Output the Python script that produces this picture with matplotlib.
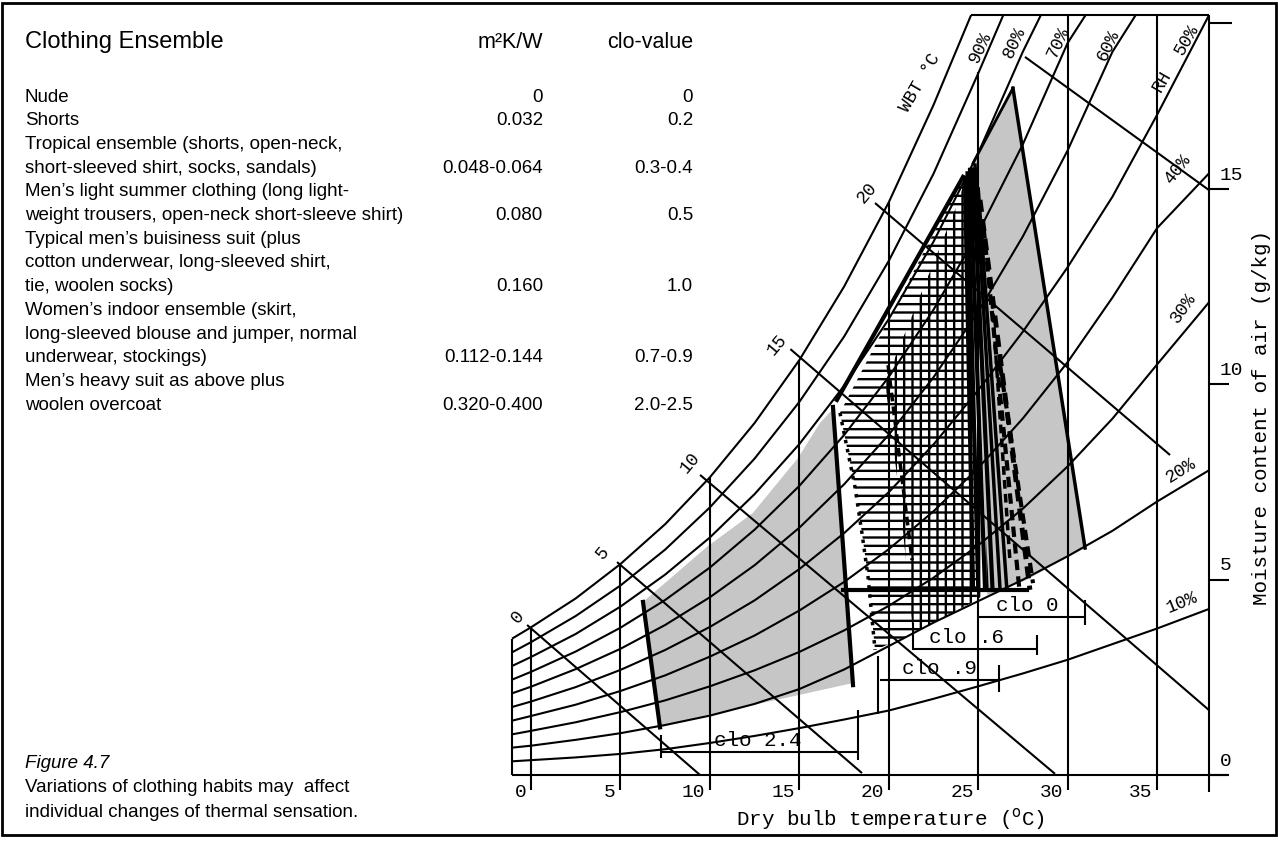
import matplotlib
matplotlib.use('Agg')
import matplotlib.pyplot as plt
from matplotlib.patches import Polygon, Rectangle

W_PX, H_PX = 1278, 843
# chart frame in pixels: T=0 degC at x=531 (17.89 px/degC), w=0 at y=775 (39.07 px per g/kg)
X0, SX = 531, 17.89
Y0, SY = 775, 39.07
SANS = 'Liberation Sans'
MONO = 'Liberation Mono'

# ---- psychrometric chart data (dry bulb degC, moisture content g/kg) ----
T_GRID = [-1.06, 0, 2.5, 5, 7.5, 10, 12.5, 15, 17.5, 20, 22.5, 25, 27.5, 30, 32.5, 35]
rh100 = [3.49, 3.78, 4.52, 5.40, 6.42, 7.62, 9.01, 10.62, 12.50, 14.66, 17.15]
rh90 = [3.14, 3.40, 4.07, 4.85, 5.77, 6.85, 8.10, 9.55, 11.22, 13.16, 15.39, 17.96]
rh80 = [2.79, 3.02, 3.61, 4.31, 5.13, 6.08, 7.19, 8.47, 9.96, 11.67, 13.65, 15.92, 18.52]
rh70 = [2.44, 2.64, 3.16, 3.77, 4.48, 5.31, 6.28, 7.40, 8.70, 10.19, 11.91, 13.88, 16.15, 18.74]
rh60 = [2.09, 2.26, 2.71, 3.23, 3.84, 4.55, 5.37, 6.33, 7.44, 8.71, 10.18, 11.86, 13.79, 15.99, 18.51]
rh50 = [1.74, 1.88, 2.25, 2.69, 3.20, 3.79, 4.47, 5.27, 6.19, 7.24, 8.46, 9.85, 11.35, 13.0, 14.8, 16.9]
rh40 = [1.39, 1.51, 1.80, 2.15, 2.55, 3.03, 3.57, 4.21, 4.94, 5.78, 6.75, 7.86, 9.13, 10.57, 12.22, 14.0]
rh30 = [1.04, 1.13, 1.35, 1.61, 1.91, 2.27, 2.68, 3.15, 3.70, 4.33, 5.05, 5.88, 6.82, 7.90, 9.12, 10.51]
rh20 = [0.70, 0.75, 0.90, 1.07, 1.28, 1.52, 1.82, 2.20, 2.70, 3.30, 3.90, 4.45, 5.00, 5.60, 6.25, 7.00]
rh10 = [0.35, 0.38, 0.45, 0.54, 0.66, 0.82, 1.00, 1.20, 1.42, 1.65, 1.95, 2.27, 2.60, 2.95, 3.35, 3.75]
RH_CURVES = [rh100, rh90, rh80, rh70, rh60, rh50, rh40, rh30, rh20, rh10]
RH_END_T = [24.6, 26.4, 28.5, 31.0, 33.8, 37.9, 37.9, 37.9, 37.9, 37.9]
RH_END_W = [19.45, 19.45, 19.45, 19.45, 19.45, 19.45, 15.4, 12.1, 7.8, 4.25]

RH_LABELS = ['90%', '80%', '70%', '60%', '50%', '40%', '30%', '20%', '10%', 'RH']
RH_LABEL_T = [25.10, 27.05, 29.46, 32.25, 36.67, 36.11, 36.45, 36.33, 36.39, 35.27]
RH_LABEL_W = [18.63, 18.74, 18.74, 18.68, 18.81, 15.49, 11.95, 7.78, 4.40, 17.74]
RH_LABEL_ROT = [65, 65, 65, 65, 60, 52, 55, 32, 22, 60]

DBT_T = [0, 5, 10, 15, 20, 25, 30, 35]
DBT_TOP = [3.78, 5.40, 7.62, 10.62, 14.66, 18.0, 19.45, 19.45]
T_EDGE_LEFT, T_EDGE_RIGHT, W_TOP = -1.06, 37.9, 19.45

WBT_LABELS = ['0', '5', '10', '15', '20']
WBT_LABEL_T = [-0.73, 4.02, 8.89, 13.75, 18.78]
WBT_LABEL_W = [4.04, 5.68, 7.99, 11.0, 14.90]
WBT_T0 = [-0.22, 4.81, 9.45, 14.5, 19.23, 27.61]
WBT_W0 = [3.84, 5.45, 7.68, 10.9, 14.64, 18.38]
WBT_T1 = [9.45, 18.5, 29.29, 37.9, 35.72, 37.9]
WBT_W1 = [0.0, 0.05, 0.03, 1.66, 8.19, 14.97]

MOIST_TICKS = [0, 5, 10, 15]

# comfort zones for the clothing levels
zoneA_T = [6.26, 9.84, 12.41, 14.92, 16.15, 16.95, 17.95, 15.0, 12.5, 10.0, 7.21]
zoneA_W = [4.43, 5.84, 6.71, 8.11, 9.01, 9.40, 2.35, 2.05, 1.80, 1.52, 1.22]
zoneB_T = [26.94, 30.97, 29.5, 27.73, 25.5, 24.71]
zoneB_W = [17.58, 5.81, 5.45, 5.00, 4.60, 15.66]
hatchH_T = [17.27, 24.15, 24.26, 24.93, 21.35, 19.23, 18.84, 18.50, 18.11]
hatchH_W = [9.27, 15.31, 15.23, 4.48, 3.61, 3.20, 5.07, 6.19, 7.37]
hatchG_T = [23.81, 19.79, 20.63, 21.35, 24.93, 25.6, 24.26]
hatchG_W = [14.59, 10.05, 7.04, 3.61, 4.48, 4.74, 15.23]

# heavy boundary strokes (T0, w0, T1, w1, linewidth, dashed)
STROKES = [
    (6.26, 4.43, 7.21, 1.22, 3.0, False),
    (16.88, 9.42, 18.0, 2.3, 3.0, False),
    (17.10, 9.60, 24.15, 15.31, 3.0, False),
    (17.44, 4.74, 27.73, 4.74, 3.0, False),
    (26.94, 17.58, 30.97, 5.81, 2.5, False),
    (26.94, 17.58, 24.71, 15.66, 2.0, False),
    (24.26, 15.28, 24.71, 4.74, 3.0, False),
    (24.40, 15.40, 25.00, 4.74, 3.0, False),
    (24.54, 15.49, 25.38, 4.74, 3.0, False),
    (24.70, 15.50, 25.80, 4.74, 3.0, False),
    (24.82, 15.61, 26.22, 4.74, 2.5, False),
    (25.00, 15.00, 26.60, 4.74, 2.5, False),
    (25.10, 14.72, 27.89, 4.74, 3.5, True),
    (25.30, 14.00, 27.30, 4.74, 3.0, True),
    (25.77, 12.16, 26.77, 5.50, 2.5, True),
    (26.22, 10.49, 28.06, 4.91, 3.0, True),
    (19.96, 10.49, 21.30, 5.50, 2.5, True),
]
edgeH_T = [17.27, 18.11, 18.50, 18.84, 19.23]
edgeH_W = [9.27, 7.37, 6.19, 5.07, 3.20]

CLO_LABELS = ['clo 2.4', 'clo 0', 'clo .6', 'clo .9']
CLO_W = [0.59, 4.04, 3.22, 2.43]
CLO_T0 = [7.27, 24.93, 21.35, 19.51]
CLO_T1 = [18.28, 30.97, 28.28, 26.16]
CLO_TEXT_T = [12.7, 27.73, 24.37, 22.86]
CLO_TICK_T = [7.27, 18.28, 30.97, 21.35, 28.28, 26.16, 19.42]
CLO_TICK_LO = [0.43, 0.38, 3.84, 3.20, 3.07, 2.12, 1.55]
CLO_TICK_HI = [1.02, 1.66, 4.48, 3.89, 3.58, 2.82, 3.05]

# ---- clothing table ----
HEADERS = ['Clothing Ensemble', 'm²K/W', 'clo-value']
ROW_TEXT = [
    'Nude', 'Shorts', 'Tropical ensemble (shorts, open-neck,',
    'short-sleeved shirt, socks, sandals)', 'Men’s light summer clothing (long light-',
    'weight trousers, open-neck short-sleeve shirt)', 'Typical men’s buisiness suit (plus',
    'cotton underwear, long-sleeved shirt,', 'tie, woolen socks)',
    'Women’s indoor ensemble (skirt,', 'long-sleeved blouse and jumper, normal',
    'underwear, stockings)', 'Men’s heavy suit as above plus', 'woolen overcoat',
]
ROW_RESIST = ['0', '0.032', '', '0.048-0.064', '', '0.080', '', '', '0.160',
              '', '', '0.112-0.144', '', '0.320-0.400']
ROW_CLO = ['0', '0.2', '', '0.3-0.4', '', '0.5', '', '', '1.0',
           '', '', '0.7-0.9', '', '2.0-2.5']
CAPTION = ['Variations of clothing habits may  affect',
           'individual changes of thermal sensation.']


def fx(x):
    return x / W_PX


def fy(y):
    return 1 - y / H_PX


plt.rcParams['hatch.linewidth'] = 1.7
fig = plt.figure(figsize=(W_PX / 100, H_PX / 100), dpi=100)
ax = fig.add_axes([0, 0, 1, 1])
ax.set_xlim(-X0 / SX, (W_PX - X0) / SX)
ax.set_ylim((Y0 - H_PX) / SY, Y0 / SY)
ax.axis('off')

# zones
ax.add_patch(Polygon(list(zip(zoneA_T, zoneA_W)), closed=True, facecolor='#c6c6c6', lw=0, zorder=1))
ax.add_patch(Polygon(list(zip(zoneB_T, zoneB_W)), closed=True, facecolor='#c6c6c6', lw=0, zorder=1))
ax.add_patch(Polygon(list(zip(hatchH_T, hatchH_W)), closed=True, facecolor='none',
                     edgecolor='black', hatch='--', lw=0, zorder=1.5))
ax.add_patch(Polygon(list(zip(hatchG_T, hatchG_W)), closed=True, facecolor='none',
                     edgecolor='black', hatch='||', lw=0, zorder=1.5))

line_kw = dict(color='black', lw=1.5, zorder=2, solid_capstyle='butt')

# relative humidity curves
for w, t_end, w_end in zip(RH_CURVES, RH_END_T, RH_END_W):
    ax.plot(T_GRID[:len(w)] + [t_end], w + [w_end], **line_kw)

# frame: left edge, baseline, top, right axis
ax.plot([T_EDGE_LEFT, T_EDGE_LEFT], [0, rh100[0]], **line_kw)
ax.plot([T_EDGE_LEFT, T_EDGE_RIGHT + 1.0], [0, 0], **line_kw)
ax.plot([RH_END_T[0], T_EDGE_RIGHT], [W_TOP, W_TOP], **line_kw)
ax.plot([T_EDGE_RIGHT, T_EDGE_RIGHT], [-0.43, W_TOP], **line_kw)

# dry bulb lines with tick labels
for t, top in zip(DBT_T, DBT_TOP):
    ax.plot([t, t], [-0.38, top], **line_kw)
    ax.text(t - 0.25, -0.46, str(t), ha='right', va='center', fontsize=14, family=MONO)

# moisture ticks on the right
for m in MOIST_TICKS:
    ax.plot([T_EDGE_RIGHT, T_EDGE_RIGHT + 1.1], [m, m], **line_kw)
    ax.text(T_EDGE_RIGHT + 0.6, m + 0.35, str(m), ha='left', va='center', fontsize=14, family=MONO)
ax.plot([T_EDGE_RIGHT, T_EDGE_RIGHT + 1.3], [19.25, 19.25], **line_kw)

# wet bulb lines
for t0, w0, t1, w1 in zip(WBT_T0, WBT_W0, WBT_T1, WBT_W1):
    ax.plot([t0, t1], [w0, w1], **line_kw)
for lab, t, w in zip(WBT_LABELS, WBT_LABEL_T, WBT_LABEL_W):
    ax.text(t, w, lab, rotation=50, ha='center', va='center', fontsize=13, family=MONO)
ax.text(21.74, 17.71, 'WBT °C', rotation=60, ha='center', va='center', fontsize=13, family=MONO)

for lab, t, w, r in zip(RH_LABELS, RH_LABEL_T, RH_LABEL_W, RH_LABEL_ROT):
    ax.text(t, w, lab, rotation=r, ha='center', va='center', fontsize=13, family=MONO)

# heavy strokes of the zones
for t0, w0, t1, w1, lw, dashed in STROKES:
    ax.plot([t0, t1], [w0, w1], color='black', lw=lw, zorder=3,
            linestyle=(0, (2.5, 1.5)) if dashed else '-')
ax.plot(edgeH_T, edgeH_W, color='black', lw=2.5, linestyle=':', zorder=3)

# clo range bars
for lab, w, t0, t1, tt in zip(CLO_LABELS, CLO_W, CLO_T0, CLO_T1, CLO_TEXT_T):
    ax.plot([t0, t1], [w, w], **line_kw)
    ax.text(tt, w + 0.05, lab, ha='center', va='bottom', fontsize=15, family=MONO, zorder=4)
for t, lo, hi in zip(CLO_TICK_T, CLO_TICK_LO, CLO_TICK_HI):
    ax.plot([t, t], [lo, hi], **line_kw)

ax.text(20.07, -1.12, 'Dry bulb temperature ($^{\\mathrm{o}}$C)', ha='center', va='center',
        fontsize=15, family=MONO)
ax.text(40.86, 9.16, 'Moisture content of air (g/kg)', rotation=90, ha='center', va='center',
        fontsize=15, family=MONO)

# clothing table on the left
fig.text(fx(25), fy(42), HEADERS[0], fontsize=17, va='center', family=SANS)
fig.text(fx(543), fy(42), HEADERS[1], fontsize=15.5, va='center', ha='right', family=SANS)
fig.text(fx(693), fy(42), HEADERS[2], fontsize=15.5, va='center', ha='right', family=SANS)
for i, (txt, res, clo) in enumerate(zip(ROW_TEXT, ROW_RESIST, ROW_CLO)):
    y = 97 + i * 23.7
    fig.text(fx(25), fy(y), txt, fontsize=13.5, va='center', family=SANS)
    fig.text(fx(543), fy(y), res, fontsize=13.5, va='center', ha='right', family=SANS)
    fig.text(fx(693), fy(y), clo, fontsize=13.5, va='center', ha='right', family=SANS)

fig.text(fx(25), fy(763), 'Figure 4.7', fontsize=13.5, va='center', style='italic', family=SANS)
for i, line in enumerate(CAPTION):
    fig.text(fx(25), fy(788 + i * 24.5), line, fontsize=13.5, va='center', family=SANS)

fig.add_artist(Rectangle((fx(2), fy(835)), fx(1274), 832 / H_PX, transform=fig.transFigure,
                         fill=False, lw=2, edgecolor='black'))

fig.savefig('out.png', dpi=100)
